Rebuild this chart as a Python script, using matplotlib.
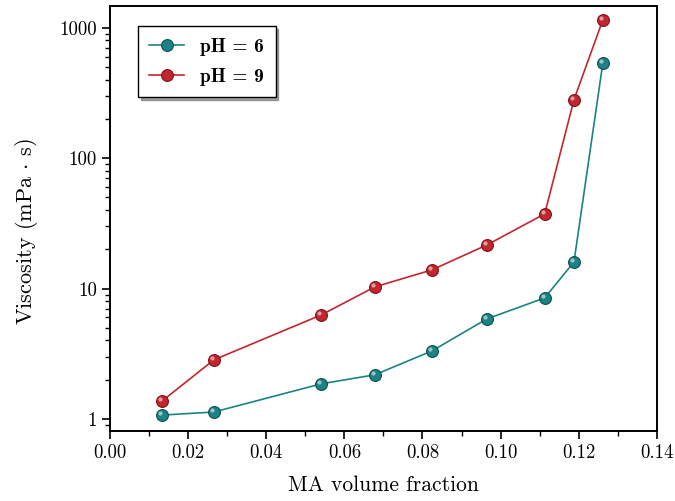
import numpy as np
import matplotlib.pyplot as plt
import matplotlib.transforms as mtransforms
from matplotlib.ticker import FixedLocator, LogLocator, NullFormatter, FuncFormatter, MultipleLocator

# Data
ma_fraction = [0.0133, 0.0266, 0.0541, 0.0678, 0.0824, 0.0965, 0.1113, 0.1188, 0.1262]
visc_ph6 = [1.07, 1.13, 1.86, 2.18, 3.32, 5.85, 8.48, 16.0, 540]
visc_ph9 = [1.37, 2.84, 6.28, 10.3, 13.9, 21.6, 37.4, 281, 1154]

plt.rcParams['font.family'] = 'serif'
plt.rcParams['font.serif'] = ['cmr10']
plt.rcParams['mathtext.fontset'] = 'cm'
plt.rcParams['axes.formatter.use_mathtext'] = True
plt.rcParams['axes.unicode_minus'] = False

teal = '#1b8385'
red = '#c3262e'

fig = plt.figure(figsize=(6.75, 5.01), dpi=100)
ax = fig.add_axes([0.163, 0.14, 0.81, 0.848])

# small offset used for a highlight on the markers (sphere look)
hl = mtransforms.offset_copy(ax.transData, fig=fig, x=-1.3, y=1.3, units='points')

for y, c, dark, lab in [(visc_ph6, teal, '#0d4c4e', 'pH = 6'),
                        (visc_ph9, red, '#7a1217', 'pH = 9')]:
    ax.plot(ma_fraction, y, '-', color=c, lw=1.2, marker='o', ms=8.5,
            mfc=c, mec=dark, mew=0.8, label=lab, zorder=3)
    ax.plot(ma_fraction, y, 'o', ms=3, color='white', alpha=0.55, mew=0,
            transform=hl, zorder=4)

ax.set_yscale('log')
ax.set_xlim(0, 0.14)
ax.set_ylim(0.81, 1470)

ax.xaxis.set_major_locator(MultipleLocator(0.02))
ax.xaxis.set_minor_locator(MultipleLocator(0.01))
ax.xaxis.set_major_formatter(FuncFormatter(lambda v, p: f'{v:.2f}'))
ax.yaxis.set_major_locator(FixedLocator([1, 10, 100, 1000]))
ax.yaxis.set_minor_locator(LogLocator(base=10, subs=np.arange(2, 10)))
ax.yaxis.set_minor_formatter(NullFormatter())
ax.yaxis.set_major_formatter(FuncFormatter(lambda v, p: f'{v:g}'))

ax.tick_params(which='major', direction='out', length=6, width=1.2, labelsize=13.5,
               top=False, right=False)
ax.tick_params(which='minor', direction='out', length=3.5, width=1.0, top=False, right=False)
for s in ax.spines.values():
    s.set_linewidth(1.4)

ax.set_xlabel('MA volume fraction', fontsize=15.5, labelpad=10)
ax.set_ylabel(r'Viscosity (mPa $\cdot$ s)', fontsize=16)
ax.yaxis.set_label_coords(-0.128, 0.47)

leg = ax.legend(loc='upper left', bbox_to_anchor=(0.033, 0.975), frameon=True,
                fancybox=False, shadow=True, edgecolor='black',
                prop={'family': 'cmb10', 'size': 14}, handlelength=1.8,
                borderpad=0.6, labelspacing=0.6)
leg.get_frame().set_linewidth(1.0)

fig.savefig('out.png', dpi=100)
